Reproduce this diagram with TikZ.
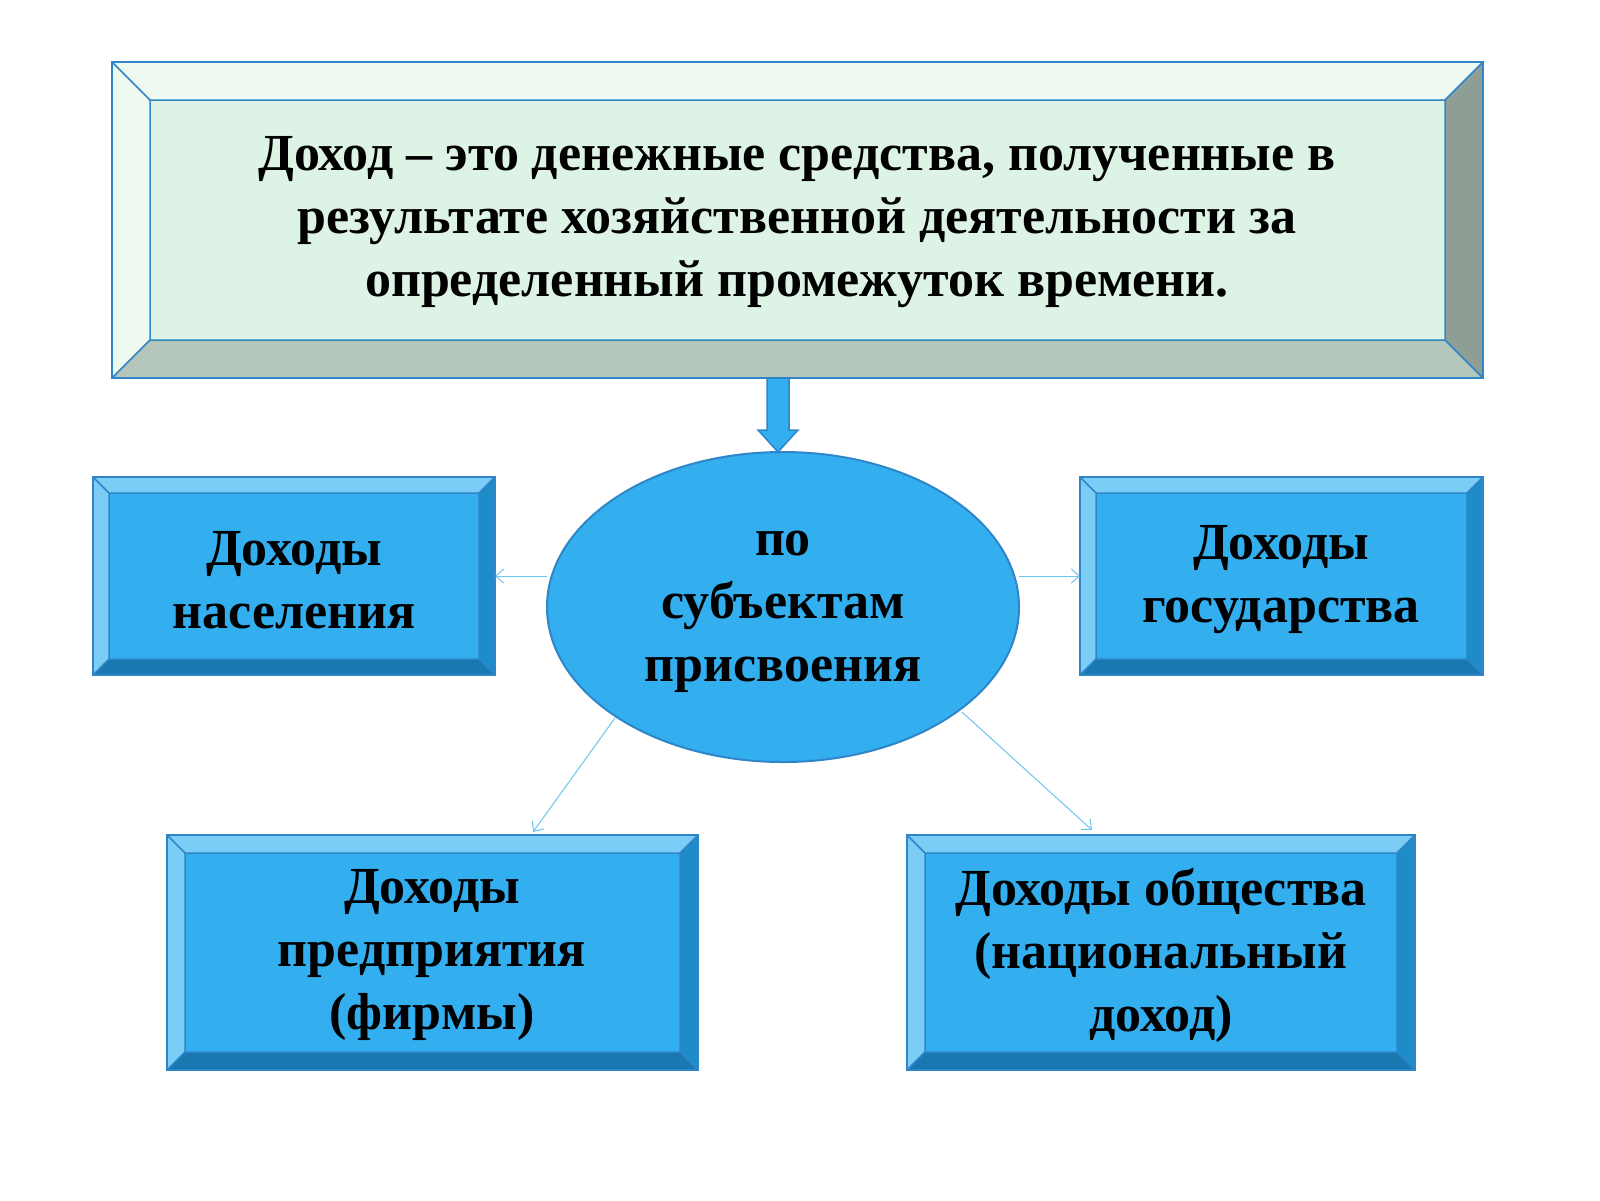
\documentclass[tikz,border=0pt]{standalone}
\usepackage{fontspec}
\setmainfont{Liberation Serif}
\usetikzlibrary{arrows.meta,shapes.geometric}
\definecolor{bl}{HTML}{33AEEF}
\definecolor{bll}{HTML}{7CCDF6}
\definecolor{bld}{HTML}{1E8CC8}
\definecolor{bldd}{HTML}{1A78B0}
\definecolor{edge}{HTML}{2E86C8}
\definecolor{gr}{HTML}{DDF3E6}
\definecolor{grl}{HTML}{EEF9F2}
\definecolor{grd}{HTML}{8E9E94}
\definecolor{grm}{HTML}{B5C6BA}
\definecolor{thinc}{HTML}{6CC6F0}
\newcommand{\bev}[9]{%
 \fill[#7] (#1,#2)--(#3,#2)--(#3-#5,#2+#5)--(#1+#5,#2+#5)--cycle;%
 \fill[#7] (#1,#2)--(#1+#5,#2+#5)--(#1+#5,#4-#5)--(#1,#4)--cycle;%
 \fill[#8] (#3,#2)--(#3,#4)--(#3-#5,#4-#5)--(#3-#5,#2+#5)--cycle;%
 \fill[#9] (#1,#4)--(#3,#4)--(#3-#5,#4-#5)--(#1+#5,#4-#5)--cycle;%
 \fill[#6] (#1+#5,#2+#5) rectangle (#3-#5,#4-#5);%
 \draw[edge,line width=2.5] (#1,#2) rectangle (#3,#4);%
 \draw[edge,line width=1.5] (#1+#5,#2+#5) rectangle (#3-#5,#4-#5)
  (#1,#2)--(#1+#5,#2+#5) (#3,#2)--(#3-#5,#2+#5) (#1,#4)--(#1+#5,#4-#5) (#3,#4)--(#3-#5,#4-#5);}
\tikzset{lbl/.style={align=center,font=\bfseries\fontsize{52}{63}\selectfont,text=black},
 thinarr/.style={draw=thinc,line width=1,-{Straight Barb[length=8,width=14]}}}
\begin{document}
\begin{tikzpicture}[x=1pt,y=-1pt]
\fill[white] (0,0) rectangle (1600,1200);
\bev{112}{62}{1483}{378}{38}{gr}{grl}{grd}{grm}
\bev{93}{477}{495}{675}{16}{bl}{bll}{bld}{bldd}
\bev{1080}{477}{1483}{675}{16}{bl}{bll}{bld}{bldd}
\bev{167}{835}{698}{1070}{18}{bl}{bll}{bld}{bldd}
\bev{907}{835}{1415}{1070}{18}{bl}{bll}{bld}{bldd}
\node[lbl] (top) at (797,222) {Доход – это денежные средства, полученные в\\результате хозяйственной деятельности за\\определенный промежуток времени.};
\node[lbl] (nas) at (294,580) {Доходы\\населения};
\node[lbl] (gos) at (1281,580) {Доходы\\государства};
\node[lbl] (pred) at (432,955) {Доходы\\предприятия\\(фирмы)};
\node[lbl] (obs) at (1161,955) {Доходы общества\\(национальный\\доход)};
\node[ellipse,fill=bl,draw=edge,line width=2,minimum width=472,minimum height=310] (ell) at (783,607) {};
\node[lbl] (elt) at (783,612) {по\\субъектам\\присвоения};
\draw[edge,fill=bl,line width=1.5] (767,378)--(789,378)--(789,430)--(798,430)--(778,452)--(758,430)--(767,430)--cycle;
\draw[thinarr] (547,576)--(495,576);
\draw[thinarr] (1019,576)--(1080,576);
\draw[thinarr] (615,718)--(533,832);
\draw[thinarr] (962,712)--(1092,830);
\pgfresetboundingbox
\useasboundingbox (0,0) rectangle (1600,1200);
\end{tikzpicture}
\end{document}
